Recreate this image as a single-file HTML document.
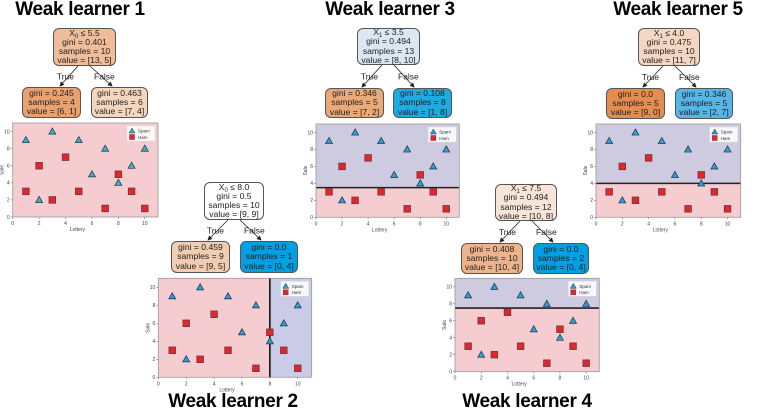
<!DOCTYPE html>
<html><head><meta charset="utf-8">
<style>
html,body{margin:0;padding:0;background:#fff;}
body{width:758px;height:413px;position:relative;overflow:hidden;font-family:"Liberation Sans",sans-serif;}
.title{position:absolute;font-weight:bold;font-size:19px;color:#000;white-space:nowrap;transform:translateX(-50%);letter-spacing:-0.3px;}
.node{position:absolute;box-sizing:border-box;border:1px solid #555;border-radius:6px;font-size:8.6px;line-height:9.2px;text-align:center;color:#222;display:flex;align-items:center;justify-content:center;}
.node>div{display:block;}
.node sub{font-size:6px;line-height:0;vertical-align:-2px;}
svg{position:absolute;left:0;top:0;}
</style></head>
<body>
<div class="title" style="left:80px;top:-1px">Weak learner 1</div>
<div class="title" style="left:390px;top:-1px">Weak learner 3</div>
<div class="title" style="left:678px;top:-1px">Weak learner 5</div>
<div class="title" style="left:233px;top:391px">Weak learner 2</div>
<div class="title" style="left:527px;top:391px">Weak learner 4</div>

<div class="node" style="left:53px;top:28px;width:63px;height:38px;background:#efbd99"><div>X<sub>0</sub> ≤ 5.5<br>gini = 0.401<br>samples = 10<br>value = [13, 5]</div></div>
<div class="node" style="left:22px;top:87px;width:59px;height:31px;background:#e9a16f"><div>gini = 0.245<br>samples = 4<br>value = [6, 1]</div></div>
<div class="node" style="left:91px;top:87px;width:57px;height:31px;background:#f4d6bf"><div>gini = 0.463<br>samples = 6<br>value = [7, 4]</div></div>
<div class="node" style="left:357px;top:28px;width:63px;height:37px;background:#dae8f4"><div>X<sub>1</sub> ≤ 3.5<br>gini = 0.494<br>samples = 13<br>value = [8, 10]</div></div>
<div class="node" style="left:325px;top:88px;width:59px;height:30px;background:#eba978"><div>gini = 0.346<br>samples = 5<br>value = [7, 2]</div></div>
<div class="node" style="left:393px;top:88px;width:59px;height:30px;background:#1eaae3"><div>gini = 0.108<br>samples = 8<br>value = [1, 8]</div></div>
<div class="node" style="left:638px;top:28px;width:62px;height:38px;background:#f4d7c2"><div>X<sub>1</sub> ≤ 4.0<br>gini = 0.475<br>samples = 10<br>value = [11, 7]</div></div>
<div class="node" style="left:606px;top:88px;width:59px;height:31px;background:#e58d4e"><div>gini = 0.0<br>samples = 5<br>value = [9, 0]</div></div>
<div class="node" style="left:675px;top:88px;width:58px;height:31px;background:#55b7e9"><div>gini = 0.346<br>samples = 5<br>value = [2, 7]</div></div>
<div class="node" style="left:204px;top:182px;width:60px;height:38px;background:#ffffff"><div>X<sub>0</sub> ≤ 8.0<br>gini = 0.5<br>samples = 10<br>value = [9, 9]</div></div>
<div class="node" style="left:171px;top:241px;width:59px;height:32px;background:#f3cdb1"><div>gini = 0.459<br>samples = 9<br>value = [9, 5]</div></div>
<div class="node" style="left:240px;top:241px;width:58px;height:32px;background:#00a0e3"><div>gini = 0.0<br>samples = 1<br>value = [0, 4]</div></div>
<div class="node" style="left:495px;top:184px;width:62px;height:37px;background:#f7e5d9"><div>X<sub>1</sub> ≤ 7.5<br>gini = 0.494<br>samples = 12<br>value = [10, 8]</div></div>
<div class="node" style="left:461px;top:243px;width:62px;height:31px;background:#edb48b"><div>gini = 0.408<br>samples = 10<br>value = [10, 4]</div></div>
<div class="node" style="left:533px;top:243px;width:56px;height:31px;background:#00a0e3"><div>gini = 0.0<br>samples = 2<br>value = [0, 4]</div></div>

<svg id="main" width="758" height="413"></svg>

<script>
const spamX = [1, 2, 3, 5, 6, 7, 8, 9, 10];
const spamY = [9, 2, 10, 9, 5, 8, 4, 6, 8];
const hamX = [1, 2, 3, 4, 5, 7, 8, 9, 10];
const hamY = [3, 6, 2, 7, 3, 1, 5, 3, 1];
const tickValues = [0, 2, 4, 6, 8, 10];
const learnerIds = ['l1', 'l2', 'l3', 'l4', 'l5'];
const splitValueByL = {l1: 4.0, l2: 8.0, l3: 3.5, l4: 7.5, l5: 4.0};
const splitAxisByL = {l1: 'x', l2: 'x', l3: 'y', l4: 'y', l5: 'y'};
const frames = {
  l1: {x0: 12.7, x1: 158, y0: 123, y1: 217, split: false, tri: '#3ab0bf'},
  l2: {x0: 158.3, x1: 311.7, y0: 278.3, y1: 377.3, split: true, tri: '#2a9fd6'},
  l3: {x0: 316, x1: 459.3, y0: 124, y1: 217.3, split: true, tri: '#2a9fd6'},
  l4: {x0: 455, x1: 599.3, y0: 278.3, y1: 371.7, split: true, tri: '#2a9fd6'},
  l5: {x0: 596, x1: 740.7, y0: 124, y1: 217.3, split: true, tri: '#2a9fd6'}
};
const arrows = [
  {n:'l1', rx:84, ry:66, lx:52, rx2:120, cy:87},
  {n:'l3', rx:388, ry:65, lx:354, rx2:422, cy:88},
  {n:'l5', rx:669, ry:66, lx:635, rx2:704, cy:88},
  {n:'l2', rx:234, ry:220, lx:200, rx2:269, cy:241},
  {n:'l4', rx:526, ry:221, lx:492, rx2:561, cy:243}
];
const NS = 'http://www.w3.org/2000/svg';
const svg = document.getElementById('main');
function mk(tag, attrs, parent) {
  const e = document.createElementNS(NS, tag);
  for (const k in attrs) e.setAttribute(k, attrs[k]);
  (parent || svg).appendChild(e);
  return e;
}
const defs = mk('defs', {});
const mkr = mk('marker', {id:'ah', markerWidth:6, markerHeight:6, refX:5, refY:3, orient:'auto'}, defs);
mk('path', {d:'M0,0 L6,3 L0,6 z', fill:'#222'}, mkr);

arrows.forEach(a => {
  const l1 = mk('line', {x1:a.rx-6, y1:a.ry, x2:a.lx+8, y2:a.cy-1, stroke:'#222', 'stroke-width':0.8, 'marker-end':'url(#ah)'});
  
  
  const l2 = mk('line', {x1:a.rx+6, y1:a.ry, x2:a.rx2-8, y2:a.cy-1, stroke:'#222', 'stroke-width':0.8, 'marker-end':'url(#ah)'});
  
  
  const t1 = mk('text', {x:a.rx-10, y:(a.ry+a.cy)/2+3, 'font-size':8.5, 'text-anchor':'end', fill:'#222'});
  t1.textContent = 'True';
  
  
  const t2 = mk('text', {x:a.rx+10, y:(a.ry+a.cy)/2+3, 'font-size':8.5, 'text-anchor':'start', fill:'#222'});
  t2.textContent = 'False';
  
  
});

learnerIds.forEach(id => {
  const f = frames[id];
  const sx = v => f.x0 + (v / 11) * (f.x1 - f.x0);
  const sy = v => f.y1 - (v / 11) * (f.y1 - f.y0);
  const g = mk('g', {});
  
  
  const pink = '#f5ccd0', purple = '#cecbe0';
  const ax = splitAxisByL[id], sv = splitValueByL[id];
  if (!f.split) {
    mk('rect', {x:f.x0, y:f.y0, width:f.x1-f.x0, height:f.y1-f.y0, fill:pink}, g);
  } else if (ax === 'x') {
    mk('rect', {x:f.x0, y:f.y0, width:sx(sv)-f.x0, height:f.y1-f.y0, fill:pink}, g);
    mk('rect', {x:sx(sv), y:f.y0, width:f.x1-sx(sv), height:f.y1-f.y0, fill:'#c9cbe7'}, g);
  } else {
    mk('rect', {x:f.x0, y:f.y0, width:f.x1-f.x0, height:sy(sv)-f.y0, fill:purple}, g);
    mk('rect', {x:f.x0, y:sy(sv), width:f.x1-f.x0, height:f.y1-sy(sv), fill:pink}, g);
  }
  if (f.split) {
    const ln = ax === 'x'
      ? mk('line', {x1:sx(sv), x2:sx(sv), y1:f.y0, y2:f.y1, stroke:'#111', 'stroke-width':1.6}, g)
      : mk('line', {x1:f.x0, x2:f.x1, y1:sy(sv), y2:sy(sv), stroke:'#222', 'stroke-width':1.6}, g);
    
    
  }
  mk('rect', {x:f.x0, y:f.y0, width:f.x1-f.x0, height:f.y1-f.y0, fill:'none', stroke:'#999', 'stroke-width':0.8}, g);
  tickValues.forEach(t => {
    mk('line', {x1:sx(t), x2:sx(t), y1:f.y1, y2:f.y1+2, stroke:'#666', 'stroke-width':0.5}, g);
    const tx = mk('text', {x:sx(t), y:f.y1+8, 'font-size':5, 'text-anchor':'middle', fill:'#444'}, g);
    tx.textContent = t;
    mk('line', {x1:f.x0-2, x2:f.x0, y1:sy(t), y2:sy(t), stroke:'#666', 'stroke-width':0.5}, g);
    const ty = mk('text', {x:f.x0-3, y:sy(t)+1.8, 'font-size':5, 'text-anchor':'end', fill:'#444'}, g);
    ty.textContent = t;
  });
  const xl = mk('text', {x:(f.x0+f.x1)/2 - 8, y:f.y1+14, 'font-size':5, 'text-anchor':'middle', fill:'#444'}, g);
  xl.textContent = 'Lottery';
  
  
  const ym = (f.y0+f.y1)/2;
  const yl = mk('text', {x:f.x0-9, y:ym, 'font-size':5, 'text-anchor':'middle', fill:'#444', transform:'rotate(-90 '+(f.x0-9)+' '+ym+')'}, g);
  yl.textContent = 'Sale';
  
  
  hamX.forEach((x, i) => {
    const r = mk('rect', {x:sx(x)-3.3, y:sy(hamY[i])-3.3, width:6.6, height:6.6, fill:'#e3262d', stroke:'#6a3a3a', 'stroke-width':0.8}, g);
    
    
  });
  spamX.forEach((x, i) => {
    const cx = sx(x), cy = sy(spamY[i]);
    const p = mk('polygon', {points:(cx)+','+(cy-3.6)+' '+(cx-3.5)+','+(cy+2.6)+' '+(cx+3.5)+','+(cy+2.6), fill:f.tri, stroke:'#234', 'stroke-width':0.7}, g);
    
    
  });
  const lg = mk('g', {}, g);
  
  
  const lx = f.x1 - 31, ly = f.y0 + 3;
  mk('rect', {x:lx, y:ly, width:28, height:15, fill:'#fff', 'fill-opacity':0.85, stroke:'#ddd', 'stroke-width':0.5}, lg);
  mk('polygon', {points:(lx+5)+','+(ly+2)+' '+(lx+2)+','+(ly+7)+' '+(lx+8)+','+(ly+7), fill:f.tri, stroke:'#234', 'stroke-width':0.5}, lg);
  mk('rect', {x:lx+2.5, y:ly+8.5, width:5, height:5, fill:'#e3262d', stroke:'#6a3a3a', 'stroke-width':0.5}, lg);
  const s1 = mk('text', {x:lx+11, y:ly+6.5, 'font-size':4.5, fill:'#333'}, lg); s1.textContent = 'Spam';
  const s2 = mk('text', {x:lx+11, y:ly+12.8, 'font-size':4.5, fill:'#333'}, lg); s2.textContent = 'Ham';
});
</script>
</body></html>
